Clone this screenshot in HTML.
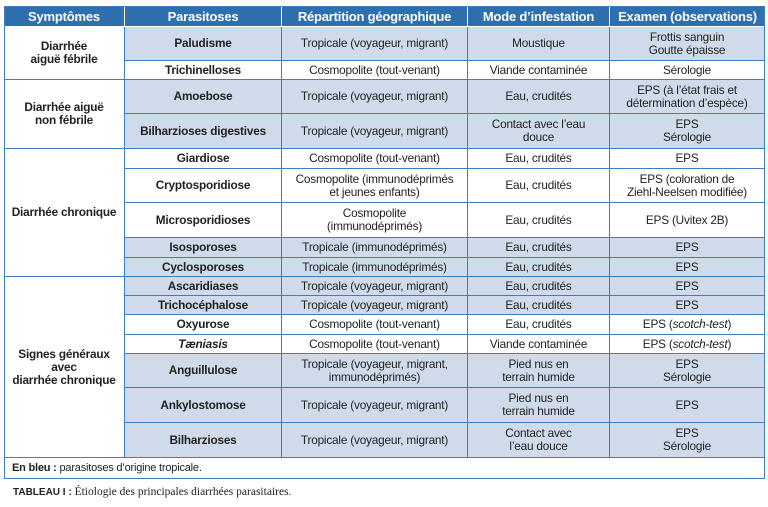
<!DOCTYPE html>
<html><head><meta charset="utf-8"><style>
body{margin:0;width:768px;height:507px;background:#fff;position:relative;font-family:"Liberation Sans",sans-serif;overflow:hidden}
.c{position:absolute;box-sizing:border-box;display:flex;align-items:center;justify-content:center;text-align:center;font-size:11.8px;line-height:13px;color:#222;border-right:1.5px solid #3f7fbf;border-bottom:1.5px solid #3f7fbf;letter-spacing:-0.2px}
.h{background:#2f6fae;color:#fff;font-weight:bold;font-size:13px;border-color:#fff}
.b{font-weight:bold}
.s{background:#cfdbea}
#frame{position:absolute;left:4px;top:6px;width:761px;height:473px;box-sizing:border-box;border:1.5px solid #3f7fbf;pointer-events:none}
</style></head><body>
<div class="c h" style="left:4px;top:6px;width:121px;height:21px">Symptômes</div>
<div class="c h" style="left:125px;top:6px;width:157px;height:21px">Parasitoses</div>
<div class="c h" style="left:282px;top:6px;width:186px;height:21px">Répartition géographique</div>
<div class="c h" style="left:468px;top:6px;width:142px;height:21px">Mode d’infestation</div>
<div class="c h" style="left:610px;top:6px;width:155px;height:21px;border-right:none">Examen (observations)</div>

<div class="c b" style="left:4px;top:27px;width:121px;height:53px">Diarrhée<br>aiguë fébrile</div>
<div class="c b" style="left:4px;top:80px;width:121px;height:69px">Diarrhée aiguë<br>non fébrile</div>
<div class="c b" style="left:4px;top:149px;width:121px;height:128px">Diarrhée chronique</div>
<div class="c b" style="left:4px;top:277px;width:121px;height:181px">Signes généraux<br>avec<br>diarrhée chronique</div>

<div class="c b s" style="left:125px;top:27px;width:157px;height:34px">Paludisme</div>
<div class="c s" style="left:282px;top:27px;width:186px;height:34px">Tropicale (voyageur, migrant)</div>
<div class="c s" style="left:468px;top:27px;width:142px;height:34px">Moustique</div>
<div class="c s" style="left:610px;top:27px;width:155px;height:34px">Frottis sanguin<br>Goutte épaisse</div>

<div class="c b" style="left:125px;top:61px;width:157px;height:19px">Trichinelloses</div>
<div class="c" style="left:282px;top:61px;width:186px;height:19px">Cosmopolite (tout-venant)</div>
<div class="c" style="left:468px;top:61px;width:142px;height:19px">Viande contaminée</div>
<div class="c" style="left:610px;top:61px;width:155px;height:19px">Sérologie</div>

<div class="c b s" style="left:125px;top:80px;width:157px;height:34px">Amoebose</div>
<div class="c s" style="left:282px;top:80px;width:186px;height:34px">Tropicale (voyageur, migrant)</div>
<div class="c s" style="left:468px;top:80px;width:142px;height:34px">Eau, crudités</div>
<div class="c s" style="left:610px;top:80px;width:155px;height:34px">EPS (à l’état frais et<br>détermination d’espèce)</div>

<div class="c b s" style="left:125px;top:114px;width:157px;height:35px">Bilharzioses digestives</div>
<div class="c s" style="left:282px;top:114px;width:186px;height:35px">Tropicale (voyageur, migrant)</div>
<div class="c s" style="left:468px;top:114px;width:142px;height:35px">Contact avec l’eau<br>douce</div>
<div class="c s" style="left:610px;top:114px;width:155px;height:35px">EPS<br>Sérologie</div>

<div class="c b" style="left:125px;top:149px;width:157px;height:20px">Giardiose</div>
<div class="c" style="left:282px;top:149px;width:186px;height:20px">Cosmopolite (tout-venant)</div>
<div class="c" style="left:468px;top:149px;width:142px;height:20px">Eau, crudités</div>
<div class="c" style="left:610px;top:149px;width:155px;height:20px">EPS</div>

<div class="c b" style="left:125px;top:169px;width:157px;height:34px">Cryptosporidiose</div>
<div class="c" style="left:282px;top:169px;width:186px;height:34px">Cosmopolite (immunodéprimés<br>et jeunes enfants)</div>
<div class="c" style="left:468px;top:169px;width:142px;height:34px">Eau, crudités</div>
<div class="c" style="left:610px;top:169px;width:155px;height:34px">EPS (coloration de<br>Ziehl-Neelsen modifiée)</div>

<div class="c b" style="left:125px;top:203px;width:157px;height:35px">Microsporidioses</div>
<div class="c" style="left:282px;top:203px;width:186px;height:35px">Cosmopolite<br>(immunodéprimés)</div>
<div class="c" style="left:468px;top:203px;width:142px;height:35px">Eau, crudités</div>
<div class="c" style="left:610px;top:203px;width:155px;height:35px">EPS (Uvitex 2B)</div>

<div class="c b s" style="left:125px;top:238px;width:157px;height:20px">Isosporoses</div>
<div class="c s" style="left:282px;top:238px;width:186px;height:20px">Tropicale (immunodéprimés)</div>
<div class="c s" style="left:468px;top:238px;width:142px;height:20px">Eau, crudités</div>
<div class="c s" style="left:610px;top:238px;width:155px;height:20px">EPS</div>

<div class="c b s" style="left:125px;top:258px;width:157px;height:19px">Cyclosporoses</div>
<div class="c s" style="left:282px;top:258px;width:186px;height:19px">Tropicale (immunodéprimés)</div>
<div class="c s" style="left:468px;top:258px;width:142px;height:19px">Eau, crudités</div>
<div class="c s" style="left:610px;top:258px;width:155px;height:19px">EPS</div>

<div class="c b s" style="left:125px;top:277px;width:157px;height:19px">Ascaridiases</div>
<div class="c s" style="left:282px;top:277px;width:186px;height:19px">Tropicale (voyageur, migrant)</div>
<div class="c s" style="left:468px;top:277px;width:142px;height:19px">Eau, crudités</div>
<div class="c s" style="left:610px;top:277px;width:155px;height:19px">EPS</div>

<div class="c b s" style="left:125px;top:296px;width:157px;height:19px">Trichocéphalose</div>
<div class="c s" style="left:282px;top:296px;width:186px;height:19px">Tropicale (voyageur, migrant)</div>
<div class="c s" style="left:468px;top:296px;width:142px;height:19px">Eau, crudités</div>
<div class="c s" style="left:610px;top:296px;width:155px;height:19px">EPS</div>

<div class="c b" style="left:125px;top:315px;width:157px;height:20px">Oxyurose</div>
<div class="c" style="left:282px;top:315px;width:186px;height:20px">Cosmopolite (tout-venant)</div>
<div class="c" style="left:468px;top:315px;width:142px;height:20px">Eau, crudités</div>
<div class="c" style="left:610px;top:315px;width:155px;height:20px">EPS (<i>scotch-test</i>)</div>

<div class="c b" style="left:125px;top:335px;width:157px;height:19px"><i>Tæniasis</i></div>
<div class="c" style="left:282px;top:335px;width:186px;height:19px">Cosmopolite (tout-venant)</div>
<div class="c" style="left:468px;top:335px;width:142px;height:19px">Viande contaminée</div>
<div class="c" style="left:610px;top:335px;width:155px;height:19px">EPS (<i>scotch-test</i>)</div>

<div class="c b s" style="left:125px;top:354px;width:157px;height:34px">Anguillulose</div>
<div class="c s" style="left:282px;top:354px;width:186px;height:34px">Tropicale (voyageur, migrant,<br>immunodéprimés)</div>
<div class="c s" style="left:468px;top:354px;width:142px;height:34px">Pied nus en<br>terrain humide</div>
<div class="c s" style="left:610px;top:354px;width:155px;height:34px">EPS<br>Sérologie</div>

<div class="c b s" style="left:125px;top:388px;width:157px;height:35px">Ankylostomose</div>
<div class="c s" style="left:282px;top:388px;width:186px;height:35px">Tropicale (voyageur, migrant)</div>
<div class="c s" style="left:468px;top:388px;width:142px;height:35px">Pied nus en<br>terrain humide</div>
<div class="c s" style="left:610px;top:388px;width:155px;height:35px">EPS</div>

<div class="c b s" style="left:125px;top:423px;width:157px;height:35px">Bilharzioses</div>
<div class="c s" style="left:282px;top:423px;width:186px;height:35px">Tropicale (voyageur, migrant)</div>
<div class="c s" style="left:468px;top:423px;width:142px;height:35px">Contact avec<br>l’eau douce</div>
<div class="c s" style="left:610px;top:423px;width:155px;height:35px">EPS<br>Sérologie</div>

<div class="c" style="left:4px;top:458px;width:761px;height:21px;justify-content:flex-start;padding-left:8px;font-size:11px;border-bottom:none"><b>En bleu&nbsp;:</b>&nbsp;parasitoses d’origine tropicale.</div>
<div id="frame"></div>

<div style="position:absolute;left:13px;top:486px;font-family:'Liberation Serif',serif;font-size:11.5px;color:#222"><b style="font-family:'Liberation Sans',sans-serif;font-size:10px">TABLEAU I&nbsp;:</b> Étiologie des principales diarrhées parasitaires.</div>
</body></html>
